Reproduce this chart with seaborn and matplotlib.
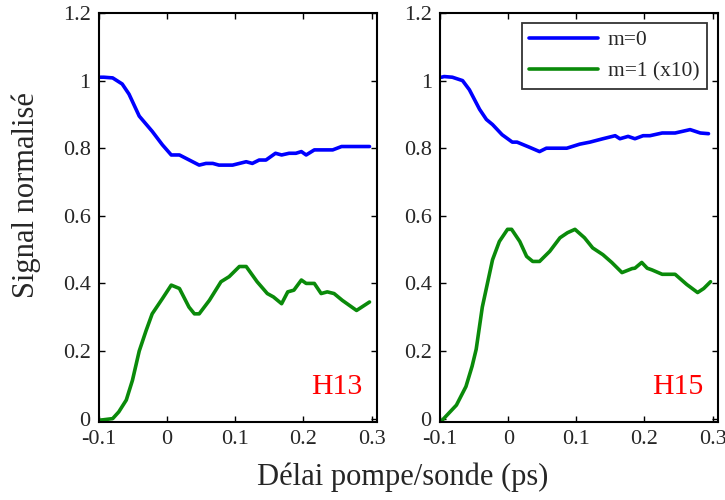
import numpy as np
import pandas as pd
import seaborn as sns
import matplotlib.pyplot as plt

# H13, m=0
h13_m0_t = [-0.098, -0.093, -0.08, -0.066, -0.056, -0.041, -0.022, -0.007, 0.006, 0.018,
            0.047, 0.057, 0.067, 0.076, 0.096, 0.116, 0.125, 0.135, 0.145, 0.159,
            0.168, 0.179, 0.189, 0.197, 0.204, 0.216, 0.243, 0.256, 0.297]
h13_m0_y = [1.01, 1.01, 1.008, 0.99, 0.96, 0.895, 0.85, 0.81, 0.78, 0.78,
            0.75, 0.755, 0.755, 0.75, 0.75, 0.76, 0.755, 0.765, 0.765, 0.785,
            0.78, 0.785, 0.785, 0.79, 0.78, 0.795, 0.795, 0.805, 0.805]

# H13, m=1 (x10)
h13_m1_t = [-0.1, -0.08, -0.071, -0.06, -0.051, -0.041, -0.031, -0.022, -0.007, 0.006,
            0.018, 0.032, 0.04, 0.047, 0.062, 0.079, 0.091, 0.106, 0.116, 0.132,
            0.147, 0.156, 0.168, 0.177, 0.186, 0.197, 0.204, 0.216, 0.226, 0.235,
            0.245, 0.257, 0.278, 0.297]
h13_m1_y = [-0.005, 0.0, 0.02, 0.055, 0.113, 0.2, 0.26, 0.31, 0.355, 0.395,
            0.385, 0.33, 0.31, 0.31, 0.35, 0.405, 0.42, 0.45, 0.45, 0.405,
            0.37, 0.36, 0.34, 0.375, 0.38, 0.41, 0.4, 0.4, 0.37, 0.375,
            0.37, 0.35, 0.32, 0.345]

# H15, m=0
h15_m0_t = [-0.098, -0.094, -0.082, -0.067, -0.057, -0.042, -0.032, -0.023, -0.009, 0.006,
            0.013, 0.031, 0.046, 0.056, 0.086, 0.105, 0.12, 0.139, 0.157, 0.164,
            0.176, 0.186, 0.198, 0.208, 0.226, 0.245, 0.267, 0.282, 0.294]
h15_m0_y = [1.01, 1.012, 1.01, 1.0, 0.973, 0.915, 0.885, 0.87, 0.84, 0.818,
            0.818, 0.803, 0.79, 0.8, 0.8, 0.812, 0.818, 0.828, 0.837, 0.828,
            0.835, 0.828, 0.837, 0.837, 0.845, 0.845, 0.855, 0.845, 0.843]

# H15, m=1 (x10)
h15_m1_t = [-0.097, -0.076, -0.062, -0.053, -0.047, -0.038, -0.023, -0.013, -0.001, 0.005,
            0.017, 0.027, 0.036, 0.046, 0.061, 0.076, 0.087, 0.098, 0.112, 0.124,
            0.139, 0.152, 0.167, 0.182, 0.186, 0.196, 0.204, 0.211, 0.226, 0.245,
            0.262, 0.278, 0.287, 0.297]
h15_m1_y = [-0.005, 0.04, 0.095, 0.155, 0.205, 0.33, 0.47, 0.524, 0.56, 0.56,
            0.524, 0.48, 0.465, 0.465, 0.495, 0.535, 0.55, 0.56, 0.535, 0.505,
            0.485, 0.462, 0.432, 0.444, 0.445, 0.462, 0.445, 0.44, 0.427, 0.427,
            0.397, 0.373, 0.385, 0.405]

panels = ["H13", "H15"]
x_ticks = [-0.1, 0, 0.1, 0.2, 0.3]
x_ticklabels = ["-0.1", "0", "0.1", "0.2", "0.3"]
y_ticks = [0, 0.2, 0.4, 0.6, 0.8, 1.0, 1.2]
y_ticklabels = ["0", "0.2", "0.4", "0.6", "0.8", "1", "1.2"]

sns.set_theme(style="ticks")
plt.rcParams["font.family"] = ["Liberation Serif", "DejaVu Serif"]
plt.rcParams["xtick.direction"] = "in"
plt.rcParams["ytick.direction"] = "in"

fig = plt.figure(figsize=(7.25, 5), dpi=100)
ax1 = fig.add_axes([0.1366, 0.156, 0.3834, 0.818])
ax2 = fig.add_axes([0.607, 0.156, 0.3834, 0.818])

data = [
    (ax1, h13_m0_t, h13_m0_y, h13_m1_t, h13_m1_y),
    (ax2, h15_m0_t, h15_m0_y, h15_m1_t, h15_m1_y),
]

blue = "#0000ff"
green = "#0a8a0a"

for (ax, t0, y0, t1, y1), name in zip(data, panels):
    sns.lineplot(x=t0, y=y0, ax=ax, color=blue, lw=2.6, sort=False, label="m=0")
    sns.lineplot(x=t1, y=y1, ax=ax, color=green, lw=2.6, sort=False, label="m=1 (x10)")
    ax.set_xlim(-0.1, 0.308)
    ax.set_ylim(-0.01, 1.2)
    ax.set_xticks(x_ticks)
    ax.set_xticklabels(x_ticklabels)
    ax.set_yticks(y_ticks)
    ax.set_yticklabels(y_ticklabels)
    ax.tick_params(axis="both", labelsize=16, top=True, right=True, length=4,
                   width=1, color="black", pad=6)
    for s in ax.spines.values():
        s.set_linewidth(1.5)
        s.set_color("black")
    ax.set_xlabel("")
    ax.set_ylabel("")
    ax.text(0.946, 0.086, name, transform=ax.transAxes, ha="right", va="center",
            color="red", fontsize=21.5)

ax1.get_legend().remove()
leg = ax2.legend(loc="upper right", fontsize=15.5, handlelength=3.2, handletextpad=0.45,
                 frameon=True, fancybox=False, edgecolor="black", borderpad=0.35,
                 labelspacing=0.5, borderaxespad=0, bbox_to_anchor=(0.96, 0.976))
leg.get_frame().set_linewidth(1.3)

fig.text(0.036, 0.61, "Signal normalisé", rotation=90, ha="center", va="center",
         fontsize=22)
fig.text(0.555, 0.045, "Délai pompe/sonde (ps)", ha="center", va="center", fontsize=22)

fig.savefig("out.png", dpi=100)
